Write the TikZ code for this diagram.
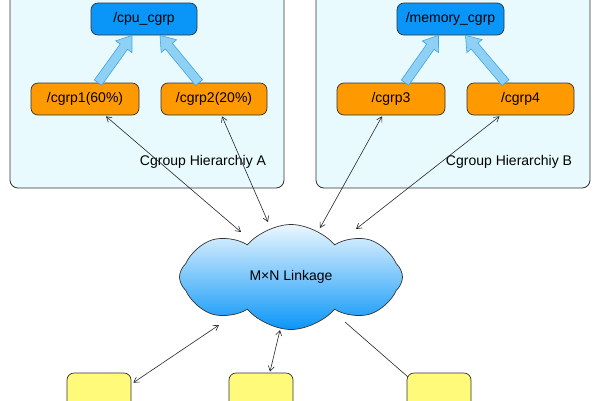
\documentclass[tikz,border=0pt]{standalone}
\usepackage{fontspec}
\setmainfont{Liberation Sans}
\usetikzlibrary{shapes.symbols,calc,arrows.meta}
\definecolor{panel}{HTML}{E8FAFD}
\definecolor{bluenode}{HTML}{0A96F8}
\definecolor{orangenode}{HTML}{FF9900}
\definecolor{yellownode}{HTML}{FFFA7A}
\definecolor{fatfill}{HTML}{8FD0F5}
\definecolor{fatline}{HTML}{3DA6E6}
\definecolor{edge}{HTML}{333333}
\begin{document}
\begin{tikzpicture}[x=1pt,y=-1pt,
  font=\fontsize{14}{16}\selectfont,
  panelbox/.style={draw=edge,fill=panel,line width=0.8pt,rounded corners=8pt},
  bluebox/.style={draw=edge,fill=bluenode,line width=0.7pt,rounded corners=7pt,minimum height=32pt,inner sep=0pt},
  orangebox/.style={draw=edge,fill=orangenode,line width=0.7pt,rounded corners=7pt,minimum height=32pt,inner sep=0pt},
  yellowbox/.style={draw=edge,fill=yellownode,line width=0.7pt,rounded corners=7pt,minimum width=64pt,minimum height=54pt,inner sep=0pt},
  fatarrow/.style={draw=fatline,fill=fatfill,line width=0.6pt,line join=miter},
  link/.style={draw=black!85,line width=0.6pt},
  linkboth/.style={link,{Straight Barb[length=5pt,width=6pt]}-{Straight Barb[length=5pt,width=6pt]}},
  lbl/.style={inner sep=0pt}
]
\useasboundingbox (0,0) rectangle (600,400);
% panels
\path[panelbox] (10,-12) rectangle (284,188);
\path[panelbox] (316,-12) rectangle (590,188);
\node[lbl] (labA) at (203,162) {Cgroup Hierarchiy A};
\node[lbl] (labB) at (509,162) {Cgroup Hierarchiy B};
% nodes
\node[bluebox,minimum width=106pt] (cpu) at (144,19) {/cpu\_cgrp};
\node[orangebox,minimum width=108pt] (c1) at (85,99) {/cgrp1(60\%)};
\node[orangebox,minimum width=106pt] (c2) at (214,99) {/cgrp2(20\%)};
\node[bluebox,minimum width=107pt] (mem) at (450.5,19) {/memory\_cgrp};
\node[orangebox,minimum width=108pt] (c3) at (391,99) {/cgrp3};
\node[orangebox,minimum width=107pt] (c4) at (520.5,99) {/cgrp4};
% fat arrows
\newcommand{\fatarr}[2]{%
  \coordinate (fh) at ($(#2)!14pt!(#1)$);
  \path[fatarrow] ($(#1)!4.5pt!90:(#2)$) -- ($(fh)!4.5pt!90:(#2)$) -- ($(fh)!10pt!90:(#2)$) -- (#2)
    -- ($(fh)!10pt!-90:(#2)$) -- ($(fh)!4.5pt!-90:(#2)$) -- ($(#1)!4.5pt!-90:(#2)$) -- cycle;}
\coordinate (t1) at ($(c1.north)+(13,0)$);
\coordinate (h1) at ($(cpu.south)+(-12,0)$);
\coordinate (t2) at ($(c2.north)+(-15,0)$);
\coordinate (h2) at ($(cpu.south)+(16,0)$);
\coordinate (t3) at ($(c3.north)+(14,0)$);
\coordinate (h3) at ($(mem.south)+(-12,0)$);
\coordinate (t4) at ($(c4.north)+(-15,0)$);
\coordinate (h4) at ($(mem.south)+(15,0)$);
\fatarr{t1}{h1}
\fatarr{t2}{h2}
\fatarr{t3}{h3}
\fatarr{t4}{h4}
% cloud
\node[cloud,cloud puffs=8,cloud puff arc=100,aspect=2.1,draw=edge,line width=0.7pt,
  top color=white!92!bluenode,bottom color=bluenode,
  minimum width=223pt,minimum height=105pt,inner sep=0pt] (cloud) at (291,277) {};
\node[lbl] (ctext) at (291,277) {M×N Linkage};
% bottom boxes
\node[yellowbox] (y1) at (99,400) {};
\node[yellowbox] (y2) at (261,400) {};
\node[yellowbox] (y3) at (439,400) {};
% connectors
\coordinate (e1) at ($(c1.south)+(21,1)$);
\coordinate (e2) at ($(c2.south)+(8,1)$);
\coordinate (e3) at ($(c3.south)+(-9,1)$);
\coordinate (e4) at ($(c4.south)+(-21,1)$);
\coordinate (k1) at ($(cloud.center)+(-50,-45)$);
\coordinate (k2) at ($(cloud.center)+(-23,-55)$);
\coordinate (k3) at ($(cloud.center)+(29,-49)$);
\coordinate (k4) at ($(cloud.center)+(65,-48)$);
\coordinate (k5) at ($(cloud.center)+(-72,48)$);
\coordinate (k6) at ($(cloud.center)+(-11,53)$);
\coordinate (k7) at ($(cloud.center)+(54,45)$);
\coordinate (b1) at ($(y1.north east)+(2,10)$);
\coordinate (b2) at ($(y2.north)+(9,-1)$);
\coordinate (b3) at ($(y3.north west)+(1,4)$);
\draw[linkboth] (e1) -- (k1);
\draw[linkboth] (e2) -- (k2);
\draw[linkboth] (e3) -- (k3);
\draw[linkboth] (e4) -- (k4);
\draw[linkboth] (k5) -- (b1);
\draw[linkboth] (k6) -- (b2);
\draw[link] (k7) -- (b3);
\end{tikzpicture}
\end{document}
